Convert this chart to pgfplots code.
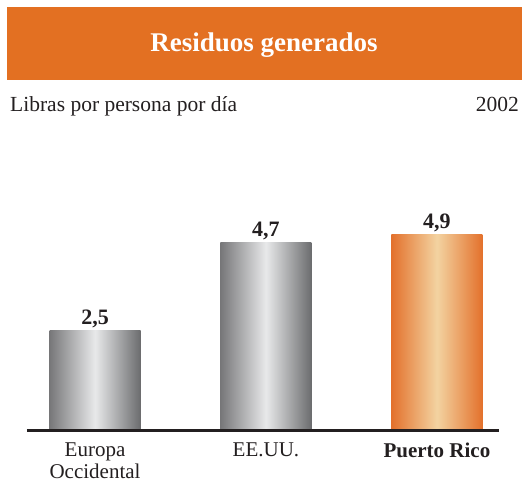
\documentclass[border=0pt]{standalone}
\usepackage{pgfplots}
\pgfplotsset{compat=1.18}
\usepackage{fontspec}
\setmainfont{Liberation Serif}
\definecolor{banner}{HTML}{E37022}
\definecolor{txt}{HTML}{231F20}
\definecolor{gedgeL}{HTML}{777779}
\definecolor{gedgeR}{HTML}{6B6C6E}
\definecolor{gmid}{HTML}{E8E9EA}
\definecolor{oedge}{HTML}{E3712C}
\definecolor{omid}{HTML}{F3D3A1}
\begin{document}
\begin{tikzpicture}[x=1pt,y=1pt]
\path[fill=white] (0,0) rectangle (522,485);
\fill[banner] (7,405) rectangle (522,478);
\node[white, font=\bfseries\fontsize{27}{32}\selectfont, anchor=base] at (264,433) {Residuos generados};
\node[anchor=base west, inner sep=0, text=txt, font=\fontsize{21.5}{25}\selectfont] at (10,373) {Libras por persona por día};
\node[anchor=base east, inner sep=0, text=txt, font=\fontsize{21.5}{25}\selectfont] at (519,373) {2002};
\begin{axis}[
  at={(27pt,55pt)}, anchor=south west,
  scale only axis, width=472pt, height=240pt,
  xmin=-0.398, xmax=2.363, ymin=0, ymax=6,
  ybar, bar width=91pt, bar shift=0pt,
  axis x line=bottom, axis y line=none,
  x axis line style={-, line width=3pt, draw=txt},
  xtick={0,1,2},
  xticklabels={{Europa\\Occidental}, {EE.UU.}, {\bfseries Puerto Rico}},
  major tick length=0pt,
  xticklabel style={font=\fontsize{21}{22}\selectfont, align=center, text=txt, yshift=-9pt},
  nodes near coords, point meta=explicit symbolic,
  nodes near coords style={font=\bfseries\fontsize{22}{26}\selectfont, text=txt, anchor=south, yshift=-1pt},
  axis on top, clip=false,
]
\addplot[draw=none, left color=gedgeL, right color=gedgeR, middle color=gmid] coordinates {(0,2.5) [2,5]};
\addplot[draw=none, left color=gedgeL, right color=gedgeR, middle color=gmid] coordinates {(1,4.7) [4,7]};
\addplot[draw=none, left color=oedge, right color=oedge, middle color=omid] coordinates {(2,4.9) [4,9]};
\end{axis}
\end{tikzpicture}
\end{document}
